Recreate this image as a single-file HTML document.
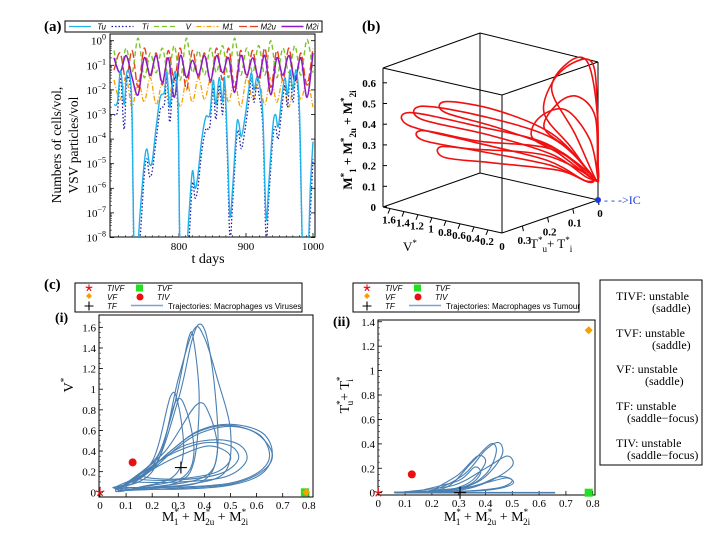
<!DOCTYPE html>
<html><head><meta charset="utf-8">
<style>
html,body{margin:0;padding:0;background:#fff;}
svg{display:block;font-family:"Liberation Serif",serif;}
.sans{font-family:"Liberation Sans",sans-serif;}
</style></head>
<body>
<svg id="fig" width="728" height="536" viewBox="0 0 728 536" xmlns="http://www.w3.org/2000/svg">
<defs>
<clipPath id="clipA"><rect x="110" y="34" width="205" height="203"/></clipPath>
</defs>
<g id="gA"></g>
<g id="gB"></g>
<g id="gC1"></g>
<g id="gC2"></g>
<g id="gBox"></g>
</svg>
<script>
// ---------- Panel (a) data (log10 values) ----------
const tOsc=[703,712,721,730,739,748,757,766,775,784,793,802,811,820,829,838,847,856,865,874,883,892,901,910,919,928,937,946,955,964,973,982,991,1000];
const seriesV=[-0.4,-1.4,-0.3,-1.3,0.1,-1.5,-0.5,-1.3,-0.3,-1.4,-0.2,-1.6,0.1,-1.3,-0.4,-1.4,-0.3,-1.3,-0.2,-1.5,0.1,-1.4,-0.3,-1.3,-0.2,-1.4,0.0,-1.5,-0.3,-1.3,-0.2,-1.4,0.05,-1.3];
const seriesM2u=[-1.2,-0.5,-1.6,-0.4,-1.9,-0.3,-1.5,-0.5,-1.8,-0.4,-1.6,-0.3,-2.0,-0.4,-1.5,-0.5,-1.7,-0.3,-1.6,-0.3,-1.9,-0.4,-1.5,-0.4,-1.7,-0.3,-1.9,-0.4,-1.6,-0.3,-1.7,-0.5,-1.8,-0.3];
const seriesM2i=[-0.7,-1.3,-0.6,-1.5,-2.2,-0.7,-1.4,-0.6,-1.7,-0.7,-2.3,-0.6,-1.5,-0.8,-1.4,-0.6,-1.6,-0.6,-1.3,-0.7,-2.1,-0.6,-1.4,-0.7,-1.5,-0.6,-2.2,-0.7,-1.4,-0.6,-1.6,-0.7,-2.3,-0.5];
const seriesM1=[-1.6,-2.4,-1.5,-2.7,-1.6,-2.5,-1.5,-2.6,-1.7,-2.4,-1.5,-2.7,-1.6,-2.5,-1.5,-2.4,-1.6,-2.6,-1.5,-2.5,-1.6,-2.7,-1.5,-2.4,-1.6,-2.6,-1.5,-2.5,-1.6,-2.7,-1.5,-2.4,-1.6,-2.7];
const tTum=[703,708,713,718,722,727,730,733,737,742,748,752,756,760,766,772,778,782,786,790,795,799,802,810,815,820,824,828,834,840,846,851,855,860,865,868,872,876,880,886,889,893,898,904,908,912,916,920,925,930,934,940,944,948,953,958,962,966,970,975,980,985,992,996,1000];
const seriesTu=[-2.6,-2.5,-1.2,-2.6,-1.3,-1.5,-3,-9,-9,-7,-5,-4.4,-5,-4.9,-3.5,-2.3,-2.1,-1.3,-2.7,-1.8,-1.3,-3,-9,-9,-7,-5.3,-6,-5.5,-4,-3.1,-3,-1.6,-2.6,-1.5,-2.5,-1.5,-4,-7.1,-6,-3.5,-3.3,-3.9,-3.2,-2,-1.3,-2,-1.5,-1.8,-3,-7.2,-5.8,-3.5,-3,-3.5,-2.4,-1.5,-2.2,-1.2,-2.0,-1.2,-3,-9,-9,-6,-4.1];
const seriesTi=[-3.0,-2.9,-1.5,-3.6,-1.6,-1.8,-3.5,-9,-9,-8,-5.5,-4.8,-5.5,-5.3,-4,-2.8,-2.6,-1.5,-3.3,-2.2,-1.5,-3.5,-9,-9,-8,-5.8,-6.4,-6,-4.5,-3.6,-3.5,-1.9,-3.2,-1.8,-3,-1.7,-4.5,-8,-6.6,-4,-3.7,-4.4,-3.7,-2.5,-1.5,-2.5,-1.8,-2.3,-3.5,-8,-6.4,-4,-3.5,-4,-2.9,-1.8,-2.7,-1.4,-2.5,-1.4,-3.5,-9,-9,-7,-4.8];
const xTicksA=[800,900,1000];
const yTicksA=[0,-1,-2,-3,-4,-5,-6,-7,-8];
// ---------- Panel (b) data: [V, T, M] ----------
const bLoopsH=[
 [[0.05,0.02,0.12],[0.3,0.12,0.3],[0.9,0.22,0.38],[1.6,0.3,0.43],[1.55,0.32,0.38],[0.9,0.25,0.32],[0.3,0.12,0.22],[0.08,0.03,0.1]],
 [[0.05,0.02,0.14],[0.3,0.1,0.32],[0.9,0.2,0.42],[1.5,0.28,0.46],[1.45,0.3,0.41],[0.8,0.22,0.35],[0.3,0.1,0.24],[0.08,0.02,0.11]],
 [[0.04,0.02,0.13],[0.25,0.12,0.28],[0.8,0.25,0.33],[1.35,0.32,0.37],[1.3,0.33,0.33],[0.7,0.26,0.29],[0.25,0.12,0.2],[0.06,0.03,0.1]],
 [[0.05,0.02,0.12],[0.3,0.13,0.25],[0.8,0.27,0.3],[1.1,0.32,0.31],[1.0,0.33,0.27],[0.6,0.25,0.24],[0.2,0.1,0.17],[0.06,0.02,0.09]],
 [[0.05,0.02,0.14],[0.3,0.1,0.34],[0.8,0.18,0.45],[1.3,0.24,0.48],[1.25,0.26,0.44],[0.7,0.2,0.38],[0.25,0.08,0.25],[0.06,0.02,0.12]]
];
const bLoopsHeart=[
 [[0.01,0.005,0.1],[0.04,0.1,0.3],[0.05,0.2,0.5],[0.06,0.16,0.64],[0.08,0.07,0.69],[0.04,0.01,0.66],[0.01,0.0,0.45],[0.0,0.0,0.2]],
 [[0.01,0.005,0.1],[0.04,0.1,0.28],[0.05,0.2,0.43],[0.07,0.14,0.52],[0.08,0.06,0.52],[0.04,0.0,0.4],[0.01,0.0,0.15]],
 [[0.02,0.01,0.1],[0.06,0.14,0.28],[0.08,0.24,0.4],[0.1,0.2,0.48],[0.1,0.1,0.47],[0.05,0.02,0.3],[0.01,0.0,0.12]],
 [[0.01,0.005,0.1],[0.04,0.08,0.35],[0.05,0.17,0.6],[0.07,0.1,0.7],[0.05,0.03,0.68],[0.02,0.0,0.45],[0.0,0.0,0.15]]
];
const bZTicks=[0,0.1,0.2,0.3,0.4,0.5,0.6];
const bVTicks=[1.6,1.4,1.2,1,0.8,0.6,0.4,0.2];
const bTTicks=[0.3,0.2,0.1,0];
// ---------- Panel (c) data ----------
const c1Loops=[
 [[0.06,0.03],[0.2,0.2],[0.3,0.9],[0.35,1.45],[0.38,1.63],[0.41,1.5],[0.44,1.0],[0.45,0.4],[0.4,0.12],[0.25,0.05]],
 [[0.08,0.04],[0.22,0.3],[0.3,1.1],[0.36,1.58],[0.4,1.5],[0.45,1.1],[0.5,0.6],[0.48,0.2],[0.35,0.08],[0.2,0.05]],
 [[0.06,0.02],[0.2,0.25],[0.28,0.8],[0.34,1.5],[0.36,1.45],[0.38,0.9],[0.36,0.3],[0.3,0.1],[0.15,0.04]],
 [[0.07,0.03],[0.2,0.3],[0.27,0.93],[0.3,0.85],[0.32,0.4],[0.28,0.15],[0.15,0.05]],
 [[0.08,0.04],[0.22,0.35],[0.29,0.88],[0.33,0.8],[0.36,0.4],[0.32,0.15],[0.18,0.06]],
 [[0.1,0.05],[0.25,0.4],[0.37,0.85],[0.42,0.75],[0.45,0.4],[0.4,0.15],[0.2,0.05]],
 [[0.06,0.04],[0.3,0.03],[0.5,0.07],[0.62,0.18],[0.66,0.38],[0.62,0.58],[0.5,0.66],[0.38,0.6],[0.28,0.42],[0.18,0.2],[0.1,0.08]],
 [[0.07,0.05],[0.3,0.05],[0.5,0.09],[0.61,0.2],[0.65,0.36],[0.61,0.56],[0.5,0.64],[0.38,0.57],[0.29,0.42],[0.2,0.22],[0.12,0.08]],
 [[0.06,0.03],[0.3,0.04],[0.5,0.08],[0.62,0.2],[0.66,0.37],[0.6,0.57],[0.49,0.65],[0.37,0.58],[0.27,0.4],[0.17,0.18]],
 [[0.12,0.1],[0.3,0.1],[0.48,0.15],[0.56,0.3],[0.54,0.45],[0.45,0.51],[0.32,0.45],[0.2,0.25],[0.14,0.12]],
 [[0.15,0.13],[0.3,0.12],[0.46,0.18],[0.53,0.32],[0.5,0.45],[0.4,0.48],[0.28,0.38],[0.18,0.22]],
 [[0.17,0.15],[0.3,0.13],[0.45,0.2],[0.5,0.35],[0.42,0.45],[0.3,0.35],[0.2,0.22]]
];
const c2Loops=[
 [[0.06,0.005],[0.2,0.02],[0.32,0.15],[0.4,0.35],[0.45,0.41],[0.46,0.3],[0.38,0.1],[0.25,0.02]],
 [[0.1,0.005],[0.25,0.04],[0.35,0.25],[0.42,0.4],[0.44,0.33],[0.4,0.15],[0.3,0.03]],
 [[0.1,0.005],[0.28,0.06],[0.4,0.2],[0.48,0.3],[0.5,0.22],[0.42,0.1],[0.3,0.02]],
 [[0.15,0.01],[0.3,0.1],[0.36,0.21],[0.38,0.15],[0.32,0.05]],
 [[0.15,0.005],[0.35,0.05],[0.45,0.13],[0.5,0.1],[0.45,0.04],[0.3,0.01]],
 [[0.12,0.005],[0.3,0.03],[0.4,0.08],[0.48,0.12],[0.5,0.07],[0.4,0.02]],
 [[0.2,0.01],[0.3,0.15],[0.37,0.3],[0.4,0.25],[0.35,0.1],[0.28,0.03]]
];
const c2Base=[[0.06,0.0],[0.66,0.0]];
const c1Eq={TIVF:[0,0],TVF:[0.785,0],VF:[0.79,0],TIV:[0.125,0.29],TF:[0.31,0.24]};
const c2Eq={TIVF:[0,0],TVF:[0.785,0],VF:[0.785,1.33],TIV:[0.125,0.15],TF:[0.305,0]};
const cXTicks=[0,0.1,0.2,0.3,0.4,0.5,0.6,0.7,0.8];
const c1YTicks=[0,0.2,0.4,0.6,0.8,1,1.2,1.4,1.6];
const c2YTicks=[0,0.2,0.4,0.6,0.8,1,1.2,1.4];

const NS="http://www.w3.org/2000/svg";
function mk(parent,tag,attrs,text){const e=document.createElementNS(NS,tag);for(const k in attrs)e.setAttribute(k,attrs[k]);if(text!==undefined)e.textContent=text;parent.appendChild(e);return e;}
function smoothOpen(pts){let d="M"+pts[0][0].toFixed(1)+","+pts[0][1].toFixed(1);for(let i=0;i<pts.length-1;i++){const p0=pts[Math.max(i-1,0)],p1=pts[i],p2=pts[i+1],p3=pts[Math.min(i+2,pts.length-1)];const c1=[p1[0]+(p2[0]-p0[0])/6,p1[1]+(p2[1]-p0[1])/6],c2=[p2[0]-(p3[0]-p1[0])/6,p2[1]-(p3[1]-p1[1])/6];d+="C"+c1[0].toFixed(1)+","+c1[1].toFixed(1)+" "+c2[0].toFixed(1)+","+c2[1].toFixed(1)+" "+p2[0].toFixed(1)+","+p2[1].toFixed(1);}return d;}
function smoothClosed(pts){const n=pts.length;let d="M"+pts[0][0].toFixed(1)+","+pts[0][1].toFixed(1);for(let i=0;i<n;i++){const p0=pts[(i-1+n)%n],p1=pts[i],p2=pts[(i+1)%n],p3=pts[(i+2)%n];const c1=[p1[0]+(p2[0]-p0[0])/6,p1[1]+(p2[1]-p0[1])/6],c2=[p2[0]-(p3[0]-p1[0])/6,p2[1]-(p3[1]-p1[1])/6];d+="C"+c1[0].toFixed(1)+","+c1[1].toFixed(1)+" "+c2[0].toFixed(1)+","+c2[1].toFixed(1)+" "+p2[0].toFixed(1)+","+p2[1].toFixed(1);}return d+"Z";}

// ===== Panel (a) =====
(function(){
const g=document.getElementById('gA');
const xA=t=>112+(t-700)*0.67;
const yA=v=>40.7-v*24.6;
let t=mk(g,'text',{x:44,y:31,'font-size':15,'font-weight':'bold'},'(a)');


const lg=mk(g,'g',{});


mk(lg,'rect',{x:65,y:21,width:257,height:11,fill:'#fff',stroke:'#000','stroke-width':1});
const legItems=[['Tu','#1fb2ec','',1.3],['Ti','#1c1ca8','1.5,2',1.3],['V','#7cc52a','5,3',1.3],['M1','#f5a000','5,2,1,2',1.3],['M2u','#e8401c','8,3',1.3],['M2i','#8a1ac8','',1.5]];
legItems.forEach((it,i)=>{const x0=69+i*42.5;const e=mk(lg,'g',{});


mk(e,'line',{x1:x0,y1:26.5,x2:x0+22,y2:26.5,stroke:it[1],'stroke-width':it[3],'stroke-dasharray':it[2]});
mk(e,'text',{x:x0+37,y:29.5,'font-size':8,'font-style':'italic','text-anchor':'end',class:'sans'},it[0]);});
const fr=mk(g,'rect',{x:110,y:34,width:205,height:203,fill:'none',stroke:'#000','stroke-width':1});


yTicksA.forEach(v=>{const y=yA(v);mk(g,'line',{x1:110,x2:114,y1:y,y2:y,stroke:'#000','stroke-width':0.8});mk(g,'line',{x1:315,x2:311,y1:y,y2:y,stroke:'#000','stroke-width':0.8});
for(let k=2;k<10;k++){const yy=y-Math.log10(k)*24.6;if(yy>34&&yy<237){mk(g,'line',{x1:110,x2:112,y1:yy,y2:yy,stroke:'#000','stroke-width':0.5});}}
const tx=mk(g,'text',{x:106,y:y+4,'font-size':11,'text-anchor':'end'});tx.textContent='10';
mk(tx,'tspan',{dy:-5,'font-size':8},v===0?'0':'−'+(-v));

});
xTicksA.forEach(v=>{const x=xA(v);mk(g,'line',{x1:x,x2:x,y1:237,y2:233,stroke:'#000','stroke-width':0.8});
const tx=mk(g,'text',{x:x,y:250,'font-size':11,'text-anchor':'middle'},String(v));

});
for(let v=710;v<1000;v+=10){if(v%100){const x=xA(v);mk(g,'line',{x1:x,x2:x,y1:237,y2:235,stroke:'#000','stroke-width':0.5});}}
const cg=mk(g,'g',{'clip-path':'url(#clipA)'});
function series(ts,vs,col,dash,w,name){const p=mk(cg,'path',{d:smoothOpen(ts.map((tt,i)=>[xA(tt),yA(vs[i])])),fill:'none',stroke:col,'stroke-width':w,'stroke-dasharray':dash});

}
series(tOsc,seriesM1,'#f5a000','5,2,1,2',1.3,'series-m1');
series(tOsc,seriesM2u,'#e8401c','8,3',1.4,'series-m2u');
series(tOsc,seriesV,'#7cc52a','5,3',1.4,'series-v');
series(tOsc,seriesM2i,'#8a1ac8','',1.5,'series-m2i');
series(tTum,seriesTi,'#1c1ca8','1.5,2',1.3,'series-ti');
series(tTum,seriesTu,'#1fb2ec','',1.4,'series-tu');
const yl=mk(g,'text',{transform:'translate(63,145) rotate(-90)','font-size':13.5,'text-anchor':'middle'});
mk(yl,'tspan',{x:0,dy:-2},'Numbers of cells/vol,');mk(yl,'tspan',{x:0,dy:17},'VSV particles/vol');


const xl=mk(g,'text',{x:208,y:263,'font-size':14,'text-anchor':'middle'},'t days');


})();

// ===== Panel (b) =====
(function(){
const g=document.getElementById('gB');
const P=(V,T,M)=>[598-V*70-T*252,200-V*15.3+T*87-M*207];
let t=mk(g,'text',{x:362,y:31,'font-size':15,'font-weight':'bold'},'(b)');


const C={a:[383,68],b:[480,33],c:[598,62],d:[502,95],e:[383,207],f:[480,173],h:[598,200],i:[502,233]};
[['a','b'],['b','c'],['c','d'],['d','a'],['e','f'],['f','h'],['h','i'],['i','e'],['a','e'],['b','f'],['c','h'],['d','i']].forEach(p=>{const l=mk(g,'line',{x1:C[p[0]][0],y1:C[p[0]][1],x2:C[p[1]][0],y2:C[p[1]][1],stroke:'#000','stroke-width':1});

});
bZTicks.forEach(v=>{const y=207-v*207;mk(g,'line',{x1:383,x2:387,y1:y,y2:y,stroke:'#000'});
const tx=mk(g,'text',{x:376,y:y+4,'font-size':11,'text-anchor':'end','font-weight':'bold'},String(v));

});
bVTicks.forEach(v=>{const x=502-v*70,y=233-v*15.3;mk(g,'line',{x1:x,x2:x-2,y1:y,y2:y+5,stroke:'#000'});
const tx=mk(g,'text',{x:x-1,y:y+15,'font-size':11,'text-anchor':'middle','font-weight':'bold'},String(v));

});
mk(g,'text',{x:502,y:250,'font-size':11,'font-weight':'bold','text-anchor':'middle'},'0');
bTTicks.forEach(v=>{const x=598-v*252,y=200+v*87;mk(g,'line',{x1:x,x2:x+1,y1:y,y2:y+5,stroke:'#000'});
const tx=mk(g,'text',{x:x+2,y:y+(v===0?17:18),'font-size':11,'text-anchor':'middle','font-weight':'bold'},String(v));

});
const tr=mk(g,'g',{});


bLoopsH.concat(bLoopsHeart).forEach(L=>{mk(tr,'path',{d:smoothClosed(L.map(p=>P(p[0],p[1],p[2]))),fill:'none',stroke:'#f01010','stroke-width':1.6});});
const ic=mk(g,'circle',{cx:598,cy:200,r:3,fill:'#1a3ad8'});


const icl=mk(g,'text',{x:604,y:204,'font-size':12,fill:'#1a3ad8'},'- - ->IC');


const zl=mk(g,'text',{transform:'translate(352,140) rotate(-90)','font-size':13,'text-anchor':'middle','font-weight':'bold'});
zl.innerHTML='M<tspan dy="-5" font-size="9">*</tspan><tspan dy="9" font-size="9">1</tspan><tspan dy="-4"> + M</tspan><tspan dy="-5" font-size="9">*</tspan><tspan dy="9" font-size="9">2u</tspan><tspan dy="-4"> + M</tspan><tspan dy="-5" font-size="9">*</tspan><tspan dy="9" font-size="9">2i</tspan>';


const vl=mk(g,'text',{x:403,y:251,'font-size':13});vl.innerHTML='V<tspan dy="-5" font-size="9">*</tspan>';


const tl=mk(g,'text',{x:530,y:248,'font-size':13});tl.innerHTML='T<tspan dy="-5" font-size="9">*</tspan><tspan dy="9" font-size="9">u</tspan><tspan dy="-4">+ T</tspan><tspan dy="-5" font-size="9">*</tspan><tspan dy="9" font-size="9">i</tspan>';


})();

// ===== Panel (c) helper =====
function phase(g,opt){
const x=v=>opt.x0+v*opt.kx, y=v=>opt.y0-v*opt.ky;
const lg=mk(g,'g',{});


const L=opt.leg;
mk(lg,'rect',{x:L[0],y:L[1],width:L[2],height:29,fill:'#fff',stroke:'#000','stroke-width':1});
const lx=L[0],ly=L[1];
star(lg,lx+14,ly+5,3.5);mk(lg,'text',{x:lx+32,y:ly+8,'font-size':8,'font-style':'italic',class:'sans'},'TIVF');
mk(lg,'rect',{x:lx+61,y:ly+1.5,width:7,height:7,fill:'#22e022'});mk(lg,'text',{x:lx+82,y:ly+8,'font-size':8,'font-style':'italic',class:'sans'},'TVF');
mk(lg,'path',{d:`M${lx+14},${ly+10}l3,3l-3,3l-3,-3z`,fill:'#f5a000'});mk(lg,'text',{x:lx+32,y:ly+17,'font-size':8,'font-style':'italic',class:'sans'},'VF');
mk(lg,'circle',{cx:lx+65,cy:ly+14,r:3.5,fill:'#e81010'});mk(lg,'text',{x:lx+82,y:ly+17,'font-size':8,'font-style':'italic',class:'sans'},'TIV');
cross(lg,lx+14,ly+23,4.5);mk(lg,'text',{x:lx+32,y:ly+26,'font-size':8,'font-style':'italic',class:'sans'},'TF');
mk(lg,'line',{x1:lx+56,x2:lx+88,y1:ly+22.5,y2:ly+22.5,stroke:'#7aa6cc','stroke-width':1.5});
mk(lg,'text',{x:lx+93,y:ly+26,'font-size':8,class:'sans'},opt.legText);
const fr=mk(g,'rect',{x:opt.box[0],y:opt.box[1],width:opt.box[2],height:opt.box[3],fill:'none',stroke:'#000','stroke-width':1});


const bot=opt.box[1]+opt.box[3];
cXTicks.forEach(v=>{const xx=x(v);mk(g,'line',{x1:xx,x2:xx,y1:bot,y2:bot-4,stroke:'#000','stroke-width':0.8});
const tx=mk(g,'text',{x:xx,y:bot+12,'font-size':11,'text-anchor':'middle'},String(v));

});
opt.yTicks.forEach(v=>{const yy=y(v);mk(g,'line',{x1:opt.box[0],x2:opt.box[0]+4,y1:yy,y2:yy,stroke:'#000','stroke-width':0.8});
const tx=mk(g,'text',{x:opt.box[0]-3,y:yy+4,'font-size':11,'text-anchor':'end'},String(v));

});
for(let v=0.05;v<(opt.yTicks[opt.yTicks.length-1]+0.1);v+=0.05){const yy=y(v);if(yy>opt.box[1])mk(g,'line',{x1:opt.box[0],x2:opt.box[0]+2,y1:yy,y2:yy,stroke:'#000','stroke-width':0.5});}
const tr=mk(g,'g',{});


opt.loops.forEach(Lp=>{mk(tr,'path',{d:smoothClosed(Lp.map(p=>[x(p[0]),y(p[1])])),fill:'none',stroke:'#4a7fb2','stroke-width':1.1});});
if(opt.base){mk(tr,'line',{x1:x(opt.base[0][0]),y1:y(opt.base[0][1]),x2:x(opt.base[1][0]),y2:y(opt.base[1][1]),stroke:'#4a7fb2','stroke-width':1.6});}
const E=opt.eq;
let m=mk(g,'rect',{x:x(E.TVF[0])-4,y:y(E.TVF[1])-4,width:8,height:8,fill:'#22e022'});


m=mk(g,'path',{d:`M${x(E.VF[0])},${y(E.VF[1])-4}l4,4l-4,4l-4,-4z`,fill:'#f5a000'});


m=mk(g,'circle',{cx:x(E.TIV[0]),cy:y(E.TIV[1]),r:4,fill:'#e81010'});


m=cross(g,x(E.TF[0]),y(E.TF[1]),6);


m=star(g,x(E.TIVF[0]),y(E.TIVF[1]),4.5);


const xl=mk(g,'text',{x:opt.xt[0],y:opt.xt[1],'font-size':14,'text-anchor':'middle'});
xl.innerHTML='M<tspan dy="-6" font-size="9">*</tspan><tspan dy="10" dx="-5" font-size="9">1</tspan><tspan dy="-4"> + M</tspan><tspan dy="-6" font-size="9">*</tspan><tspan dy="10" dx="-5" font-size="9">2u</tspan><tspan dy="-4"> +  M</tspan><tspan dy="-6" font-size="9">*</tspan><tspan dy="10" dx="-5" font-size="9">2i</tspan>';


const yl=mk(g,'text',{transform:`translate(${opt.yt[0]},${opt.yt[1]}) rotate(-90)`,'font-size':14,'text-anchor':'middle'});
yl.innerHTML=opt.yTitle;


}
function star(g,cx,cy,r){let d="";for(let k=0;k<5;k++){const a=-Math.PI/2+k*2*Math.PI/5;d+=`M${cx},${cy}L${(cx+r*Math.cos(a)).toFixed(1)},${(cy+r*Math.sin(a)).toFixed(1)}`;}return mk(g,'path',{d:d,stroke:'#e81010','stroke-width':1.2,fill:'none'});}
function cross(g,cx,cy,r){return mk(g,'path',{d:`M${cx-r},${cy}H${cx+r}M${cx},${cy-r}V${cy+r}`,stroke:'#000','stroke-width':1.1,fill:'none'});}

(function(){
const g=document.getElementById('gC1');
let t=mk(g,'text',{x:44,y:289,'font-size':15,'font-weight':'bold'},'(c)');


t=mk(g,'text',{x:55,y:322,'font-size':14,'font-weight':'bold'},'(i)');


phase(g,{id:'c-i',x0:100,kx:261,y0:492.3,ky:103.1,box:[99,315,214,182],leg:[75,283,227],legText:'Trajectories: Macrophages vs Viruses',yTicks:c1YTicks,loops:c1Loops,eq:c1Eq,xt:[205,521],yt:[73,385],yTitle:'V<tspan dy="-6" font-size="9">*</tspan>'});
})();
(function(){
const g=document.getElementById('gC2');
let t=mk(g,'text',{x:333,y:326,'font-size':14,'font-weight':'bold'},'(ii)');


phase(g,{id:'c-ii',x0:378.3,kx:268,y0:492.7,ky:122.1,box:[378,320,217,175],leg:[353,283,226],legText:'Trajectories: Macrophages vs Tumour',yTicks:c2YTicks,loops:c2Loops,base:c2Base,eq:c2Eq,xt:[487,521],yt:[349,395],yTitle:'T<tspan dy="-6" font-size="9">*</tspan><tspan dy="10" dx="-5" font-size="9">u</tspan><tspan dy="-4">+ T</tspan><tspan dy="-6" font-size="9">*</tspan><tspan dy="10" dx="-5" font-size="9">i</tspan>'});
})();
(function(){
const g=document.getElementById('gBox');
mk(g,'rect',{x:600,y:280,width:102,height:185,fill:'#fff',stroke:'#000','stroke-width':1});
const rows=[['TIVF: unstable','(saddle)',300,652],['TVF: unstable','(saddle)',337,652],['VF: unstable','(saddle)',373,645],['TF: unstable','(saddle−focus)',410,627],['TIV: unstable','(saddle−focus)',447,627]];
rows.forEach(r=>{const tx=mk(g,'text',{'font-size':12});
mk(tx,'tspan',{x:616,y:r[2]},r[0]);mk(tx,'tspan',{x:r[3],y:r[2]+12},r[1]);

});
})();
</script>
</body></html>
